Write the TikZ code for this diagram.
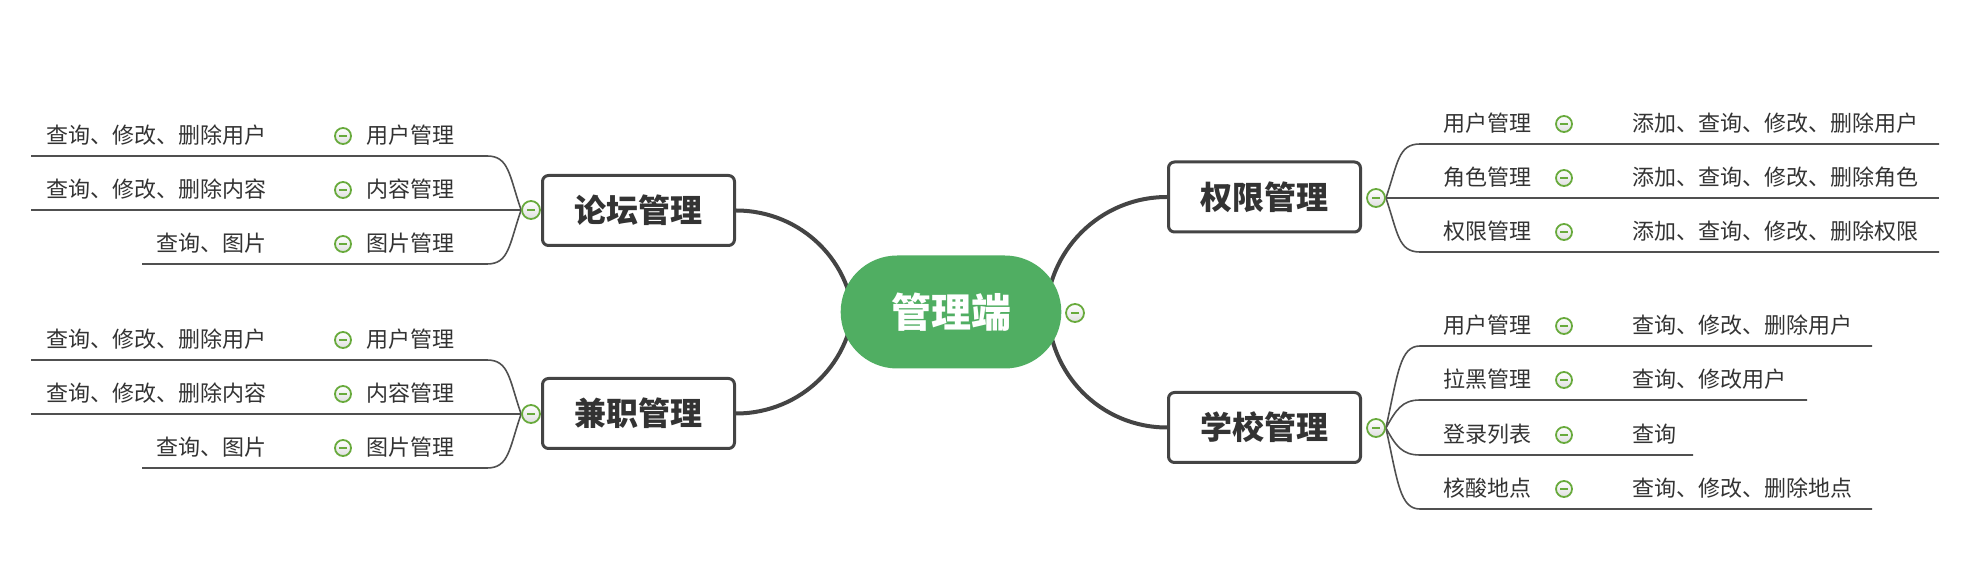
\documentclass[tikz,border=0pt]{standalone}
\usepackage{fontspec}
\setmainfont{Noto Sans CJK SC}
\usepackage{tikz}
\usetikzlibrary{shapes.misc}
\usetikzlibrary{backgrounds}
\definecolor{maingreen}{RGB}{80,174,98}
\definecolor{foldgreen}{RGB}{104,170,60}
\definecolor{linegray}{RGB}{68,68,68}
\definecolor{subgray}{RGB}{80,80,80}
\definecolor{textgray}{RGB}{51,51,51}
\tikzset{
  root/.style={rounded rectangle, fill=maingreen, minimum width=117pt, minimum height=56.5pt,
    text=white, font=\fontsize{20pt}{24pt}\selectfont\bfseries},
  topic/.style={draw=linegray, line width=1.5pt, rounded corners=3pt, fill=white,
    minimum width=96pt, minimum height=35pt, text=textgray, font=\fontsize{16pt}{19pt}\selectfont\bfseries},
  leaf/.style={inner sep=0pt, text=textgray, font=\fontsize{11pt}{13pt}\selectfont},
  fold/.style={circle, draw=foldgreen, line width=0.9pt, top color=white, bottom color=gray!25,
    minimum size=9pt, inner sep=0pt,
    path picture={\draw[foldgreen, line width=0.9pt] ([xshift=-2pt]path picture bounding box.center)
      -- ([xshift=2pt]path picture bounding box.center);}},
  subfold/.style={fold, minimum size=8pt},
  trunk/.style={draw=linegray, line width=2pt},
  twig/.style={draw=subgray, line width=0.8pt}
}

\begin{document}
\begin{tikzpicture}[x=0.5pt, y=-0.5pt]
    \useasboundingbox (0,0) rectangle (1974,576);

    \node[root] (main) at (951,312) {管理端};
    \node[fold] (mainfold) at (1075,313) {};

    \node[topic] (forum) at (638.5,210.5) {论坛管理};
    \node[topic] (parttime) at (638.5,413.5) {兼职管理};
    \node[topic] (perm) at (1264.5,197) {权限管理};
    \node[topic] (school) at (1264.5,427.5) {学校管理};

    \node[fold] (forumfold) at (531,210) {};
    \node[fold] (parttimefold) at (531,414) {};
    \node[fold] (permfold) at (1376,198) {};
    \node[fold] (schoolfold) at (1376,428) {};

    \coordinate (forumin) at (854,327);
    \coordinate (parttimein) at (854,297);
    \coordinate (permin) at (1046,318);
    \coordinate (schoolin) at (1048,308);

    \node[leaf, anchor=east] (fu1desc) at (267,135) {查询、修改、删除用户};
    \node[subfold] (fu1fold) at (343,136) {};
    \node[leaf, anchor=west] (fu1name) at (366,135) {用户管理};
    \node[leaf, anchor=east] (fu2desc) at (267,189) {查询、修改、删除内容};
    \node[subfold] (fu2fold) at (343,190) {};
    \node[leaf, anchor=west] (fu2name) at (366,189) {内容管理};
    \node[leaf, anchor=east] (fu3desc) at (267,243) {查询、图片};
    \node[subfold] (fu3fold) at (343,244) {};
    \node[leaf, anchor=west] (fu3name) at (366,243) {图片管理};
    \coordinate (fu1) at (487,156);
    \coordinate (fu1e) at (31,156);
    \coordinate (fu2e) at (31,210);
    \coordinate (fu3) at (487,264);
    \coordinate (fu3e) at (142,264);

    \node[leaf, anchor=east] (pt1desc) at (267,339) {查询、修改、删除用户};
    \node[subfold] (pt1fold) at (343,340) {};
    \node[leaf, anchor=west] (pt1name) at (366,339) {用户管理};
    \node[leaf, anchor=east] (pt2desc) at (267,393) {查询、修改、删除内容};
    \node[subfold] (pt2fold) at (343,394) {};
    \node[leaf, anchor=west] (pt2name) at (366,393) {内容管理};
    \node[leaf, anchor=east] (pt3desc) at (267,447) {查询、图片};
    \node[subfold] (pt3fold) at (343,448) {};
    \node[leaf, anchor=west] (pt3name) at (366,447) {图片管理};
    \coordinate (pt1) at (487,360);
    \coordinate (pt1e) at (31,360);
    \coordinate (pt2e) at (31,414);
    \coordinate (pt3) at (487,468);
    \coordinate (pt3e) at (142,468);

    \node[leaf, anchor=west] (pm1name) at (1443,123) {用户管理};
    \node[subfold] (pm1fold) at (1564,124) {};
    \node[leaf, anchor=west] (pm1desc) at (1632,123) {添加、查询、修改、删除用户};
    \node[leaf, anchor=west] (pm2name) at (1443,177) {角色管理};
    \node[subfold] (pm2fold) at (1564,178) {};
    \node[leaf, anchor=west] (pm2desc) at (1632,177) {添加、查询、修改、删除角色};
    \node[leaf, anchor=west] (pm3name) at (1443,231) {权限管理};
    \node[subfold] (pm3fold) at (1564,232) {};
    \node[leaf, anchor=west] (pm3desc) at (1632,231) {添加、查询、修改、删除权限};
    \coordinate (pm1) at (1420,144);
    \coordinate (pm1e) at (1939,144);
    \coordinate (pm2e) at (1939,198);
    \coordinate (pm3) at (1420,252);
    \coordinate (pm3e) at (1939,252);

    \node[leaf, anchor=west] (sc1name) at (1443,325) {用户管理};
    \node[subfold] (sc1fold) at (1564,326) {};
    \node[leaf, anchor=west] (sc1desc) at (1632,325) {查询、修改、删除用户};
    \node[leaf, anchor=west] (sc2name) at (1443,379) {拉黑管理};
    \node[subfold] (sc2fold) at (1564,380) {};
    \node[leaf, anchor=west] (sc2desc) at (1632,379) {查询、修改用户};
    \node[leaf, anchor=west] (sc3name) at (1443,434) {登录列表};
    \node[subfold] (sc3fold) at (1564,435) {};
    \node[leaf, anchor=west] (sc3desc) at (1632,434) {查询};
    \node[leaf, anchor=west] (sc4name) at (1443,488) {核酸地点};
    \node[subfold] (sc4fold) at (1564,489) {};
    \node[leaf, anchor=west] (sc4desc) at (1632,488) {查询、修改、删除地点};
    \coordinate (sc1) at (1420,346);
    \coordinate (sc1e) at (1872,346);
    \coordinate (sc2) at (1420,400);
    \coordinate (sc2e) at (1807,400);
    \coordinate (sc3) at (1420,455);
    \coordinate (sc3e) at (1693,455);
    \coordinate (sc4) at (1420,509);
    \coordinate (sc4e) at (1872,509);

    \begin{scope}[on background layer]
    \draw[trunk] (forum.east) .. controls +(65,0) and +(0,-65) .. (forumin);
    \draw[trunk] (parttime.east) .. controls +(65,0) and +(0,65) .. (parttimein);
    \draw[trunk] (perm.west) .. controls +(-67,0) and +(0,-67) .. (permin);
    \draw[trunk] (school.west) .. controls +(-66,0) and +(0,66) .. (schoolin);

    \draw[twig] (forumfold.west) .. controls +(-12,-35) and +(22,0) .. (fu1) -- (fu1e);
    \draw[twig] (forumfold.west) -- (fu2e);
    \draw[twig] (forumfold.west) .. controls +(-12,35) and +(22,0) .. (fu3) -- (fu3e);
    \draw[twig] (parttimefold.west) .. controls +(-12,-35) and +(22,0) .. (pt1) -- (pt1e);
    \draw[twig] (parttimefold.west) -- (pt2e);
    \draw[twig] (parttimefold.west) .. controls +(-12,35) and +(22,0) .. (pt3) -- (pt3e);
    \draw[twig] (permfold.east) .. controls +(12,-35) and +(-22,0) .. (pm1) -- (pm1e);
    \draw[twig] (permfold.east) -- (pm2e);
    \draw[twig] (permfold.east) .. controls +(12,35) and +(-22,0) .. (pm3) -- (pm3e);
    \draw[twig] (schoolfold.east) .. controls +(12,-55) and +(-20,0) .. (sc1) -- (sc1e);
    \draw[twig] (schoolfold.east) .. controls +(10,-18) and +(-18,0) .. (sc2) -- (sc2e);
    \draw[twig] (schoolfold.east) .. controls +(10,18) and +(-18,0) .. (sc3) -- (sc3e);
    \draw[twig] (schoolfold.east) .. controls +(12,55) and +(-20,0) .. (sc4) -- (sc4e);
    \end{scope}
\end{tikzpicture}
\end{document}
